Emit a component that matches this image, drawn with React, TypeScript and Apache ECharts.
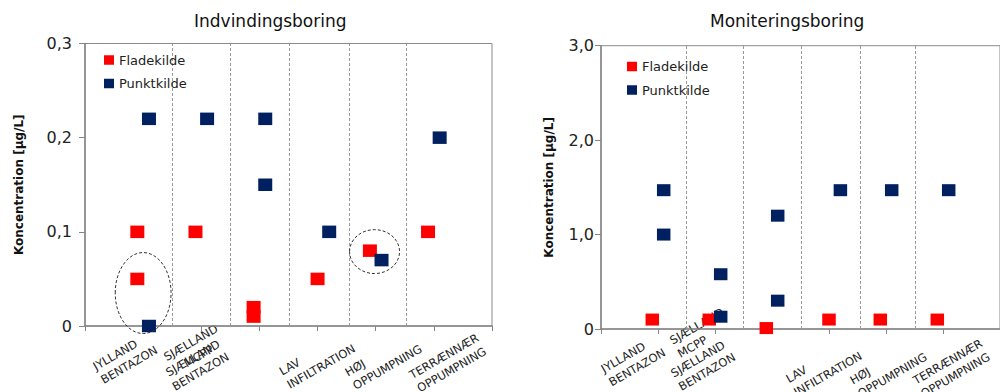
import { useEffect, useRef } from "react";
import * as echarts from "echarts";

// Two panels: abstraction wells (left) and monitoring wells (right)
const panelTitles = ["Indvindingsboring", "Moniteringsboring"];
const sourceNames = ["Fladekilde", "Punktkilde"];
const sourceColors = ["#ff0000", "#002060"];
const yAxisTitle = "Koncentration [µg/L]";

// Group labels under the x axis (groups 1..6, group 3 unlabeled)
const groupLabels = [
  "JYLLAND\nBENTAZON",
  "SJÆLLAND\nMCPP",
  "SJÆLLAND\nBENTAZON",
  "LAV\nINFILTRATION",
  "HØJ\nOPPUMPNING",
  "TERRÆNNÆR\nOPPUMPNING",
];

// Boundaries between groups on the x scale
const groupBoundaries = [1.5, 2.5, 3.52, 4.55, 5.52];

// [x position, concentration µg/L]
const indvFlade: number[][] = [
  [0.9, 0.1], [0.9, 0.05], [1.9, 0.1], [2.9, 0.02], [2.9, 0.01],
  [4.0, 0.05], [4.9, 0.08], [5.9, 0.1],
];
const indvPunkt: number[][] = [
  [1.1, 0.22], [1.1, 0], [2.1, 0.22], [3.1, 0.22], [3.1, 0.15],
  [4.2, 0.1], [5.1, 0.07], [6.1, 0.2],
];
const monFlade: number[][] = [
  [0.9, 0.1], [1.9, 0.1], [2.9, 0.01], [4.0, 0.1], [4.9, 0.1], [5.9, 0.1],
];
const monPunkt: number[][] = [
  [1.1, 1.47], [1.1, 1.0], [2.1, 0.58], [2.1, 0.13], [3.1, 1.2], [3.1, 0.3],
  [4.2, 1.47], [5.1, 1.47], [6.1, 1.47],
];

const yMax = [0.3, 3];
const yStep = [0.1, 1];

// Dashed rings drawn around selected points: data-space center and radii
const rings = [
  { grid: 0, center: [1.0, 0.035], radius: [0.48, 0.043] },
  { grid: 0, center: [4.98, 0.079], radius: [0.43, 0.0233] },
];

// Layout
const FONT = "'DejaVu Sans', sans-serif";
const grids = [
  { left: 85, top: 43.5, width: 407, height: 282.5 },
  { left: 601, top: 45.7, width: 409.5, height: 283.3 },
];
const labelAngle = (30 * Math.PI) / 180;
// [x, y, horizontal alignment] of each label block's top edge
const labelAnchors: [number, number, string][][] = [
  [
    [90.2, 360.5, "left"],
    [187, 336, "center"],
    [189, 351.5, "center"],
    [276.5, 365.5, "left"],
    [342.2, 366.5, "left"],
    [406.5, 369, "left"],
  ],
  [
    [598.2, 363, "left"],
    [667, 334.5, "left"],
    [668, 367.5, "left"],
    [783.2, 373, "left"],
    [847.2, 374.5, "left"],
    [910.2, 374.5, "left"],
  ],
];
const legendPos = [
  { left: 104, top: 53 },
  { left: 627, top: 59.5 },
];
const titlePos = [
  { left: 189, top: 7 },
  { left: 705, top: 7 },
];
const axisLabelMargin = [13, 7];
const nameGap = [60, 46];
const symbolSize = [
  [14, 12.5],
  [13.5, 12],
];

const fmt = (v: number) => (v === 0 ? "0" : v.toFixed(1).replace(".", ","));

export default function App() {
  const ref = useRef<HTMLDivElement>(null);

  useEffect(() => {
    if (!ref.current) return;
    const chart = echarts.init(ref.current, null, { renderer: "svg" });

    const panelData = [
      [indvFlade, indvPunkt],
      [monFlade, monPunkt],
    ];

    const series: any[] = [];
    panelData.forEach((pair, gi) => {
      pair.forEach((data, si) => {
        const s: any = {
          type: "scatter",
          name: sourceNames[si],
          xAxisIndex: gi,
          yAxisIndex: gi,
          data,
          symbol: "rect",
          symbolSize: symbolSize[gi],
          itemStyle: { color: sourceColors[si], opacity: 1 },
          z: 3,
        };
        if (si === 0) {
          s.markLine = {
            silent: true,
            symbol: ["none", "none"],
            label: { show: false },
            lineStyle: { type: [3, 2], color: "#9a9a9a", width: 1 },
            data: groupBoundaries.map((b) => ({ xAxis: b })),
            z: 1,
          };
        }
        series.push(s);
      });
    });

    const axisLine = { show: true, lineStyle: { color: "#868686", width: 1.5 } };

    chart.setOption({
      animation: false,
      backgroundColor: "#ffffff",
      title: panelTitles.map((t, i) => ({
        text: t,
        left: titlePos[i].left,
        top: titlePos[i].top,
        textStyle: { fontFamily: FONT, fontSize: 17, fontWeight: "normal", color: "#111" },
      })),
      legend: [0, 1].map((i) => ({
        data: sourceNames,
        orient: "vertical",
        left: legendPos[i].left,
        top: legendPos[i].top,
        icon: "rect",
        itemWidth: 10,
        itemHeight: 9.5,
        itemGap: 9.5,
        padding: 0,
        selectedMode: false,
        textStyle: { fontFamily: FONT, fontSize: 13, color: "#222", lineHeight: 14 },
      })),
      grid: grids.map((g) => ({ ...g, show: true, borderColor: "#8a8a8a", borderWidth: 1, containLabel: false })),
      xAxis: [0, 1].map((i) => ({
        type: "value",
        gridIndex: i,
        min: 0,
        max: 7,
        interval: 1,
        axisLine,
        axisTick: { show: true, length: 5, lineStyle: { color: "#868686" } },
        axisLabel: { show: false },
        splitLine: { show: false },
      })),
      yAxis: [0, 1].map((i) => ({
        type: "value",
        gridIndex: i,
        min: 0,
        max: yMax[i],
        interval: yStep[i],
        axisLine,
        axisTick: { show: true, length: 6, lineStyle: { color: "#868686" } },
        axisLabel: {
          formatter: fmt,
          fontFamily: FONT,
          fontSize: 16,
          color: "#222",
          margin: axisLabelMargin[i],
        },
        splitLine: { show: false },
        name: yAxisTitle,
        nameLocation: "middle",
        nameGap: nameGap[i],
        nameTextStyle: { fontFamily: FONT, fontSize: 12, fontWeight: "bold", color: "#111" },
      })),
      series,
    });

    const graphic: any[] = [];
    labelAnchors.forEach((anchors) => {
      anchors.forEach((p, li) => {
        graphic.push({
          type: "text",
          x: p[0],
          y: p[1],
          rotation: labelAngle,
          silent: true,
          style: {
            text: groupLabels[li],
            fontFamily: FONT,
            fontSize: 11.5,
            lineHeight: 15.5,
            fill: "#222",
            align: p[2],
            verticalAlign: "top",
            textAlign: p[2],
            textVerticalAlign: "top",
          },
        });
      });
    });
    rings.forEach((r) => {
      const c = chart.convertToPixel({ gridIndex: r.grid }, r.center) as number[];
      const ex = chart.convertToPixel({ gridIndex: r.grid }, [r.center[0] + r.radius[0], r.center[1] + r.radius[1]]) as number[];
      graphic.push({
        type: "ellipse",
        silent: true,
        z: 10,
        shape: { cx: c[0], cy: c[1], rx: Math.abs(ex[0] - c[0]), ry: Math.abs(c[1] - ex[1]) },
        style: { fill: "none", stroke: "#333", lineWidth: 1, lineDash: [3, 2] },
      });
    });
    chart.setOption({ graphic });

    return () => chart.dispose();
  }, []);

  return (
    <div style={{ position: "fixed", left: 0, top: 0, width: 1000, height: 392, overflow: "hidden", background: "#fff" }}>
      <div ref={ref} style={{ width: 1000, height: 392 }} />
    </div>
  );
}
